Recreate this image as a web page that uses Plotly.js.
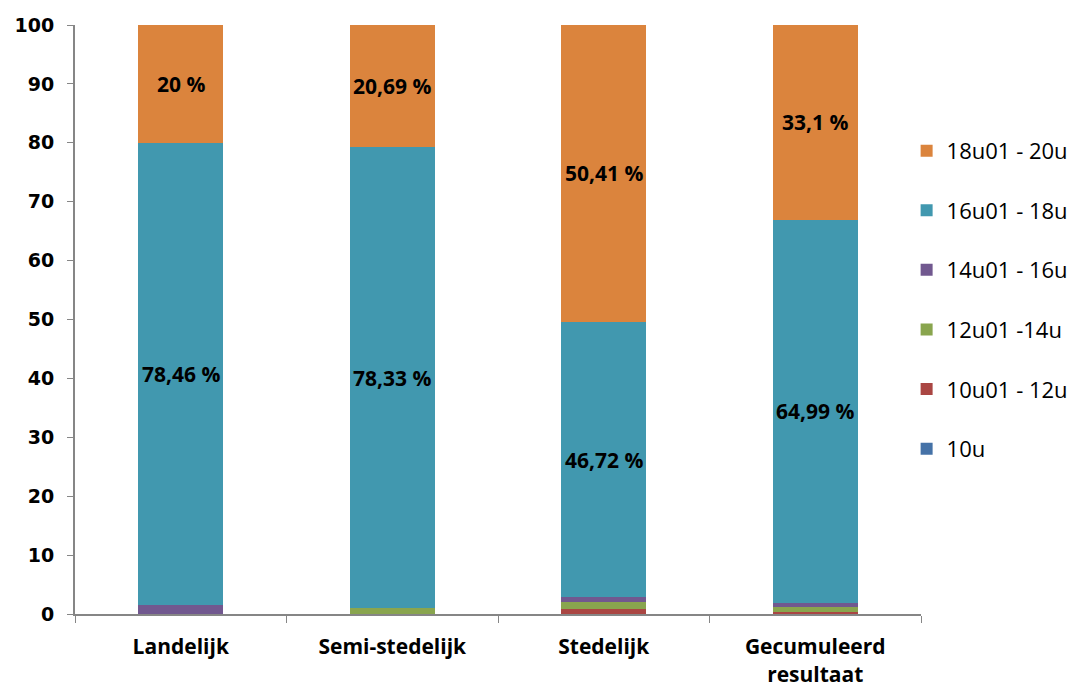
<!DOCTYPE html>
<html><head><meta charset="utf-8">
<script src="https://cdn.plot.ly/plotly-3.0.1.min.js"></script>
<style>body{margin:0;background:#fff}#c{width:1074px;height:691px}</style>
</head><body><div id="c"></div>
<script>
const categories = ["Landelijk", "Semi-stedelijk", "Stedelijk", "Gecumuleerd<br>resultaat"];
const seriesNames = ["10u", "10u01 - 12u", "12u01 -14u", "14u01 - 16u", "16u01 - 18u", "18u01 - 20u"];
const v10u   = [0, 0, 0, 0];
const v10_12 = [0, 0, 0.82, 0.32];
const v12_14 = [0, 0.98, 1.23, 0.85];
const v14_16 = [1.54, 0, 0.82, 0.74];
const v16_18 = [78.46, 78.33, 46.72, 64.99];
const v18_20 = [20, 20.69, 50.41, 33.1];
const seriesValues = [v10u, v10_12, v12_14, v14_16, v16_18, v18_20];
const showText = [false, false, false, false, true, true];
const colors = ["#4572A7", "#AA4643", "#89A54E", "#71588F", "#4198AF", "#DB843D"];

const traces = seriesNames.map((n, i) => ({
  type: "bar",
  name: n,
  x: categories,
  y: seriesValues[i],
  legendgroup: "g" + i,
  legendrank: 100 - i,
  marker: {color: colors[i], line: {width: 0}},
  hoverinfo: "skip"
}));

// value labels at the middle of each labelled segment (computed from data)
const annotations = [];
categories.forEach((c, j) => {
  let base = 0;
  seriesValues.forEach((vals, i) => {
    const v = vals[j];
    if (showText[i]) {
      annotations.push({
        x: c, y: base + v / 2, xref: "x", yref: "y",
        text: String(v).replace(".", ",") + " %",
        showarrow: false,
        font: {family: "Open Sans, sans-serif", size: 21, color: "#000", weight: "bold"}
      });
    }
    base += v;
  });
});

const layout = {
  width: 1074, height: 691,
  barmode: "stack",
  bargap: 0.6,
  margin: {l: 75, r: 153, t: 25, b: 77, autoexpand: false},
  paper_bgcolor: "#fff", plot_bgcolor: "#fff",
  font: {family: "Open Sans, sans-serif", color: "#000"},
  annotations: annotations,
  xaxis: {
    showline: true, linecolor: "#868686", linewidth: 2,
    ticks: "outside", tickson: "boundaries", ticklen: 7, tickcolor: "#868686", tickwidth: 1,
    tickfont: {size: 21, weight: "bold"},
    ticklabelstandoff: 13,
    showgrid: false, zeroline: false, fixedrange: true
  },
  yaxis: {
    range: [0, 100], dtick: 10,
    showline: true, linecolor: "#868686", linewidth: 2,
    ticks: "outside", ticklen: 6, tickcolor: "#868686", tickwidth: 1,
    tickfont: {size: 19, weight: "bold", family: "DejaVu Sans, sans-serif"},
    ticklabelstandoff: 9,
    showgrid: false, zeroline: false, fixedrange: true
  },
  legend: {
    x: 0.983, xanchor: "left", y: 0.822, yanchor: "top",
    traceorder: "grouped", tracegroupgap: 28,
    font: {size: 22, family: "Open Sans, sans-serif"},
    itemwidth: 30
  },
  showlegend: true
};
Plotly.newPlot("c", traces, layout, {displayModeBar: false, staticPlot: true});
</script></body></html>
